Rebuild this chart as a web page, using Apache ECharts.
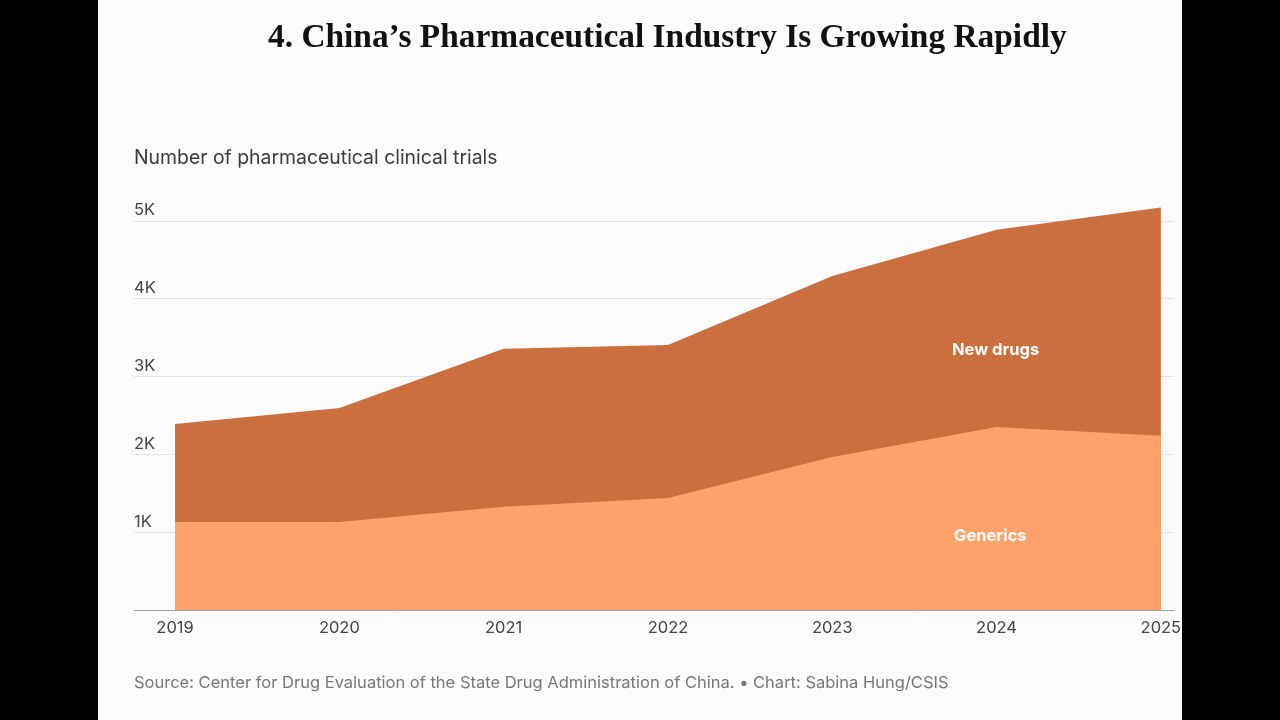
<!DOCTYPE html>
<html>
<head>
<meta charset="utf-8">
<title>China's Pharmaceutical Industry</title>
<script src="https://cdn.jsdelivr.net/npm/echarts@6/dist/echarts.min.js"></script>
<style>
  html, body { margin: 0; padding: 0; width: 1280px; height: 720px; background: #000; overflow: hidden; }
  #chart { position: absolute; left: 98px; top: 0; width: 1084px; height: 720px; background: #fbfbfb; }
</style>
</head>
<body>
<div id="chart"></div>
<script>
var years = [2019, 2020, 2021, 2022, 2023, 2024, 2025];
var generics = [1130, 1130, 1325, 1440, 1965, 2350, 2240];
var newDrugs = [1260, 1465, 2030, 1965, 2325, 2535, 2930];
var sansFont = 'Inter, "Noto Sans", sans-serif';

// x is a value axis so it can run past 2019 and 2025, and stack would pile on x,
// so new drugs is drawn on top of generics by hand
var totals = newDrugs.map(function (v, i) {
    return v + generics[i];
});

function pairs(values) {
    return values.map(function (v, i) {
        return [years[i], v];
    });
}

var myChart = echarts.init(document.getElementById('chart'));
var option = {
    animation: false,
    title: [
        {
            text: '4. China\u2019s Pharmaceutical Industry Is Growing Rapidly',
            left: 165, top: 17,
            textStyle: { fontFamily: '"Liberation Serif", serif', fontWeight: 'bold', fontSize: 33.4, color: '#111' }
        },
        {
            text: 'Number of pharmaceutical clinical trials',
            left: 31, top: 144,
            textStyle: { fontFamily: sansFont, fontWeight: 'normal', fontSize: 19.4, color: '#3c3c3c' }
        },
        {
            text: 'Source: Center for Drug Evaluation of the State Drug Administration of China. \u2022 Chart: Sabina Hung/CSIS',
            left: 31, top: 670,
            textStyle: { fontFamily: sansFont, fontWeight: 'normal', fontSize: 16.5, color: '#777' }
        }
    ],
    grid: { left: 36, right: 8, top: 143, height: 467, outerBoundsMode: 'none' },
    xAxis: {
        type: 'value',
        min: 2018.75,
        max: 2025.08,
        splitLine: { show: false },
        axisLine: { onZero: false, lineStyle: { color: '#a3a3a3', width: 1 } },
        axisTick: { show: false },
        axisLabel: {
            customValues: years,
            formatter: function (v) { return String(v); },
            margin: 10,
            fontFamily: sansFont,
            fontSize: 16.5,
            color: '#444'
        }
    },
    yAxis: {
        type: 'value',
        min: 0,
        max: 6000,
        interval: 1000,
        axisLine: { show: false },
        axisTick: { show: false },
        splitLine: { showMinLine: false, showMaxLine: false, lineStyle: { color: '#e2e2e2', width: 1 } },
        axisLabel: {
            inside: true,
            margin: 0,
            align: 'left',
            verticalAlign: 'bottom',
            padding: [0, 0, 2, 0],
            fontFamily: sansFont,
            fontSize: 16.5,
            color: '#444',
            formatter: function (v) {
                return v === 0 || v === 6000 ? '' : (v / 1000) + 'K';
            }
        }
    },
    series: [
        {
            name: 'New drugs',
            type: 'line',
            data: pairs(totals),
            showSymbol: false,
            lineStyle: { width: 0 },
            areaStyle: { color: '#cc6f3f', opacity: 1 }
        },
        {
            name: 'Generics',
            type: 'line',
            data: pairs(generics),
            showSymbol: false,
            lineStyle: { width: 0 },
            areaStyle: { color: '#ffa16a', opacity: 1 }
        }
    ],
    graphic: [
        {
            type: 'text', left: 854, top: 342, z: 10,
            style: { text: 'New drugs', fill: '#fff', font: 'bold 16.5px ' + sansFont }
        },
        {
            type: 'text', left: 856, top: 528, z: 10,
            style: { text: 'Generics', fill: '#fff', font: 'bold 16.5px ' + sansFont }
        }
    ]
};
myChart.setOption(option);
</script>
</body>
</html>
